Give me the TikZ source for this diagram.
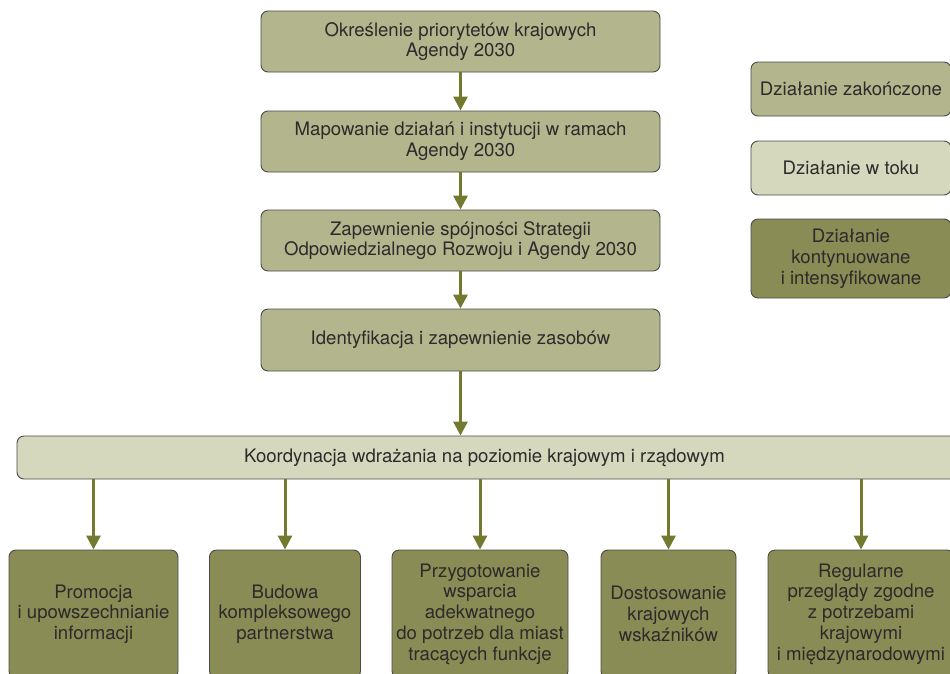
\documentclass[tikz,border=0pt]{standalone}
\usepackage{fontspec}
\setmainfont{TeX Gyre Heros}
\usepackage{xcolor}
\usepackage{tikz}
\usetikzlibrary{arrows.meta}
\definecolor{oliveA}{HTML}{B3B68C}
\definecolor{oliveB}{HTML}{D6D8BE}
\definecolor{oliveC}{HTML}{8A8C55}
\definecolor{arrowc}{HTML}{737A30}
\definecolor{edgec}{HTML}{4A4A4A}
\definecolor{txt}{HTML}{2B2B2B}
\tikzset{>={Triangle[width=14pt,length=14pt]}}
\tikzstyle{box} = [rectangle, rounded corners=7pt, draw=edgec, line width=0.9pt, text=txt, align=center, font=\fontsize{18.6}{20.75}\selectfont, inner sep=0pt]
\tikzstyle{zakonczone} = [box, fill=oliveA]
\tikzstyle{wtoku} = [box, fill=oliveB]
\tikzstyle{kontynuowane} = [box, fill=oliveC]
\tikzstyle{flow} = [->, draw=arrowc, line width=3pt]

\begin{document}
\begin{tikzpicture}[x=1pt, y=-1pt]
\useasboundingbox (0,0) rectangle (950,673);
\clip (0,0) rectangle (950,673);
\node [zakonczone, minimum width=399pt, minimum height=61pt] (N1) at (460.5, 41.5) {Określenie priorytetów krajowych\\Agendy 2030};
\node [zakonczone, minimum width=399pt, minimum height=61pt] (N2) at (460.5, 141.5) {Mapowanie działań i instytucji w ramach\\Agendy 2030};
\node [zakonczone, minimum width=399pt, minimum height=61pt] (N3) at (460.5, 240.5) {Zapewnienie spójności Strategii\\Odpowiedzialnego Rozwoju i Agendy 2030};
\node [zakonczone, minimum width=399pt, minimum height=62pt] (N4) at (460.5, 340) {Identyfikacja i zapewnienie zasobów};
\node [wtoku, minimum width=943pt, minimum height=43pt] (K) at (488.5, 457.5) {Koordynacja wdrażania na poziomie krajowym i rządowym\hspace*{8pt}};
\node [kontynuowane, minimum width=169pt, minimum height=128pt] (B1) at (93.5, 614) {Promocja\\i upowszechnianie\\informacji};
\node [kontynuowane, minimum width=151pt, minimum height=128pt] (B2) at (285, 614) {Budowa\\kompleksowego\\partnerstwa};
\node [kontynuowane, minimum width=176pt, minimum height=128pt] (B3) at (480, 614) {Przygotowanie\\wsparcia\\adekwatnego\\do potrzeb dla miast\\tracących funkcje};
\node [kontynuowane, minimum width=135pt, minimum height=128pt] (B4) at (668.5, 614) {Dostosowanie\\krajowych\\wskaźników};
\node [kontynuowane, minimum width=186pt, minimum height=128pt] (B5) at (861, 614) {Regularne\\przeglądy zgodne\\z potrzebami\\krajowymi\\i międzynarodowymi};
\node [zakonczone, minimum width=200pt, minimum height=54pt] (L1) at (851, 89) {Działanie zakończone};
\node [wtoku, minimum width=200pt, minimum height=54pt] (L2) at (851, 168) {Działanie w toku};
\node [kontynuowane, minimum width=200pt, minimum height=79pt] (L3) at (851, 258.5) {Działanie\\kontynuowane\\i intensyfikowane};
\draw [flow] (N1) to (N2);
\draw [flow] (N2) to (N3);
\draw [flow] (N3) to (N4);
\draw [flow] (N4.south) to (N4.south |- K.north);
\draw [flow] (B1.north |- K.south) to (B1.north);
\draw [flow] (B2.north |- K.south) to (B2.north);
\draw [flow] (B3.north |- K.south) to (B3.north);
\draw [flow] (B4.north |- K.south) to (B4.north);
\draw [flow] (B5.north |- K.south) to (B5.north);
\end{tikzpicture}
\end{document}
